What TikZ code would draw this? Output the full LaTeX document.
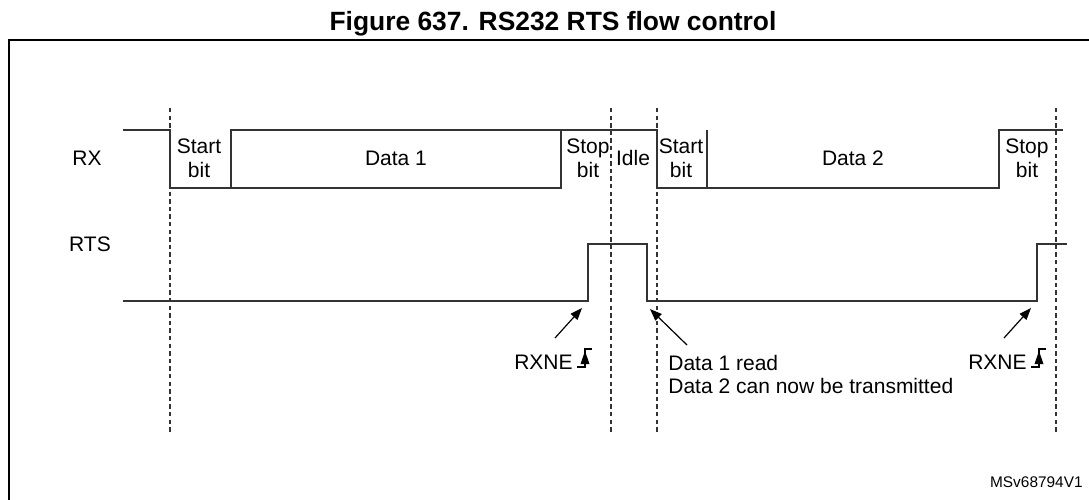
\documentclass[tikz,border=0pt]{standalone}
\usepackage{fontspec}
\setmainfont{Liberation Sans}
\usetikzlibrary {arrows.meta}

\tikzset{
  wave/.style={line width=0.8pt, black!80},
  guide/.style={line width=0.6pt, black!80, dash pattern=on 2.2pt off 1.6pt},
  lbl/.style={font=\fontsize{10.5}{12}\selectfont, align=center, inner sep=0pt},
  pointer/.style={line width=0.6pt, -{Triangle[length=6pt,width=4.5pt]}},
}

\begin{document}
\begin{tikzpicture}[x=0.5pt, y=-0.5pt]
        \clip (0,0) rectangle (1089,499);
        % 枠と題
        \draw [line width=1pt] (9,520)--(9,40)--(1100,40);
        \node (title) [anchor=base, font=\bfseries\fontsize{13.2}{15}\selectfont] at (553,30) {Figure 637. RS232 RTS flow control};
        % 破線
        \foreach \x in {170, 611, 657, 1056}
          \draw [guide] (\x, 108)--(\x, 433);
        % RX
        \node (rx) [lbl] at (87, 158) {RX};
        \draw [wave] (123, 130)--(170, 130)--(170, 188)--(561, 188)--(561, 130);
        \draw [wave] (231, 188)--(231, 130)--(657, 130)--(657, 188)--(999, 188)--(999, 130)--(1063, 130);
        \draw [wave] (707, 188)--(707, 130);
        \node (start1) [lbl] at (199, 158) {Start\\bit};
        \node (data1) [lbl] at (396, 158) {Data 1};
        \node (stop1) [lbl] at (588, 158) {Stop\\bit};
        \node (idle) [lbl] at (633, 158) {Idle};
        \node (start2) [lbl] at (681, 158) {Start\\bit};
        \node (data2) [lbl] at (853, 158) {Data 2};
        \node (stop2) [lbl] at (1027, 158) {Stop\\bit};
        % RTS
        \node (rts) [lbl] at (90, 244) {RTS};
        \draw [wave] (123, 301)--(588, 301)--(588, 244)--(647, 244)--(647, 301)--(1037, 301)--(1037, 244)--(1067, 244);
        % RXNE と読み出し
        \node (rxne1) [lbl, anchor=base east] at (573, 369) {RXNE};
        \draw [line width=0.6pt] (577, 367)--(585, 367)--(585, 349)--(592, 349);
        \fill (585, 351)--(580.5, 364)--(589.5, 364)--cycle;
        \node (rxne2) [lbl, anchor=base east] at (1027, 369) {RXNE};
        \draw [line width=0.6pt] (1031, 367)--(1039, 367)--(1039, 349)--(1046, 349);
        \fill (1039, 351)--(1034.5, 364)--(1043.5, 364)--cycle;
        \node (note) [lbl, align=left, anchor=base west, font=\fontsize{10.5}{11.5}\selectfont] at (668, 393) {Data 1 read\\Data 2 can now be transmitted};
        \coordinate (rise1) at (582, 308);
        \coordinate (rise1tail) at (555, 338);
        \coordinate (fall1) at (650, 309);
        \coordinate (fall1tail) at (687, 345);
        \coordinate (rise2) at (1031, 308);
        \coordinate (rise2tail) at (1004, 338);
        \draw [pointer] (rise1tail)--(rise1);
        \draw [pointer] (fall1tail)--(fall1);
        \draw [pointer] (rise2tail)--(rise2);
        % 番号
        \node (ref) [anchor=base east, inner sep=0pt, font=\fontsize{7.7}{9}\selectfont] at (1083, 487) {MSv68794V1};
      \end{tikzpicture}
\end{document}
